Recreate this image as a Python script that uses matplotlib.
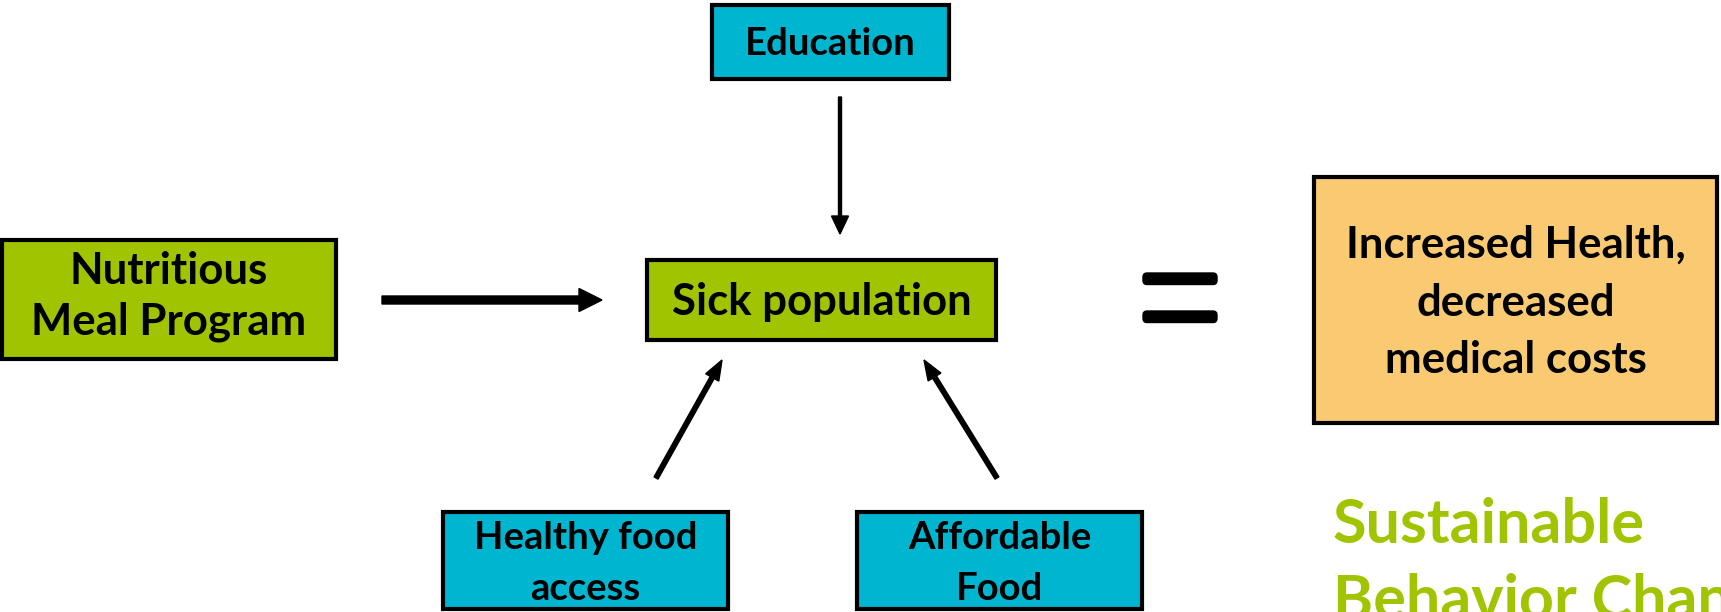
import matplotlib
matplotlib.use("Agg")
import matplotlib.pyplot as plt
from matplotlib.patches import Rectangle, FancyBboxPatch

# ---- content ----
box_lines = [
    ["Education"],
    ["Nutritious", "Meal Program"],
    ["Sick population"],
    ["Healthy food", "access"],
    ["Affordable", "Food"],
    ["Increased Health,", "decreased", "medical costs"],
]
box_colors = ["#00B5D0", "#A0C500", "#A0C500", "#00B5D0", "#00B5D0", "#FACA73"]
footer_lines = ["Sustainable", "Behavior Change"]
footer_color = "#A0C500"

# ---- layout (pixel coordinates) ----
# box: x0, y0, x1, y1, font size
box_layout = [
    (710, 3, 951, 81, 27.5),
    (0, 238, 338, 361, 31.5),
    (645, 258, 998, 342, 31.5),
    (441, 510, 730, 611, 27.5),
    (855, 510, 1144, 611, 27.5),
    (1312, 175, 1719, 425, 31.5),
]
line_baselines = [
    [55],
    [284, 334],
    [315],
    [549, 600],
    [549, 600],
    [258, 316, 373],
]
# arrows: (x_start, y_start, x_end, y_end, shaft width, head width, head length)
arrows = [
    (840, 97, 840, 234, 3, 17, 18),
    (382, 300, 602, 300, 8, 23, 23),
    (656, 478, 722, 360, 4.5, 15, 20),
    (997, 478, 924, 360, 4.5, 15, 20),
]
footer_x = 1333
footer_baselines = [543, 618]

FONT = ["Lato", "DejaVu Sans"]

fig = plt.figure(figsize=(17.21, 6.12), dpi=100)
ax = fig.add_axes([0, 0, 1, 1])
ax.set_xlim(0, 1721)
ax.set_ylim(612, 0)
ax.axis("off")

for lines, col, (x0, y0, x1, y1, fs), bls in zip(box_lines, box_colors, box_layout, line_baselines):
    ax.add_patch(Rectangle((x0 + 2, y0 + 2), x1 - x0 - 4, y1 - y0 - 4,
                           facecolor=col, edgecolor="black", linewidth=3.0, zorder=2))
    cx = (x0 + x1) / 2
    for line, yb in zip(lines, bls):
        ax.text(cx, yb, line, ha="center", va="baseline", fontsize=fs, fontweight="bold",
                family=FONT, color="black", zorder=3)

for (xs, ys, xe, ye, w, hw, hl) in arrows:
    ax.arrow(xs, ys, xe - xs, ye - ys, width=w, head_width=hw, head_length=hl,
             length_includes_head=True, color="black", zorder=3)

# equals sign
for yb in (273, 311):
    ax.add_patch(FancyBboxPatch((1143, yb), 74, 11.5, boxstyle="round,pad=0,rounding_size=4",
                                facecolor="black", edgecolor="black", linewidth=1, zorder=3))

for line, yb in zip(footer_lines, footer_baselines):
    ax.text(footer_x, yb, line, ha="left", va="baseline", fontsize=44, fontweight="bold",
            family=FONT, color=footer_color, clip_on=False)

fig.savefig("out.png", dpi=100)
